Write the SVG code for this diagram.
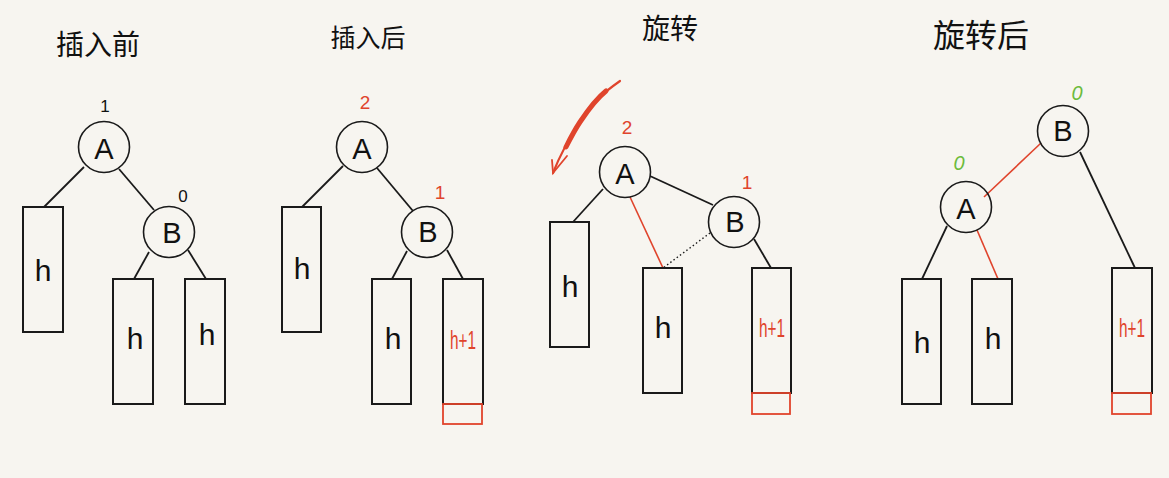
<svg xmlns="http://www.w3.org/2000/svg" width="1169" height="478" viewBox="0 0 1169 478">
<style>
.bg{fill:#f7f5f0}
.nd{fill:none;stroke:#1a1a1a;stroke-width:1.6}
.bx{fill:none;stroke:#1a1a1a;stroke-width:2}
.rb{fill:none;stroke:#e0442c;stroke-width:1.8}
.ln{stroke:#1a1a1a;stroke-width:1.8;fill:none}
.rl{stroke:#e0442c;stroke-width:1.6;fill:none}
.dl{stroke:#1a1a1a;stroke-width:1.4;stroke-dasharray:1.5 2.5;fill:none}
.lt{font-family:"Liberation Sans",sans-serif;font-size:29px;fill:#111;text-anchor:middle;dominant-baseline:central}
.h{font-family:"Liberation Sans",sans-serif;font-size:30px;fill:#111;text-anchor:middle;dominant-baseline:central}
.hr{font-family:"Liberation Sans",sans-serif;font-size:26px;fill:#e0442c;text-anchor:middle;dominant-baseline:central}
.n{font-family:"Liberation Sans",sans-serif;font-size:17px;fill:#111;text-anchor:middle;dominant-baseline:central}
.nr{font-family:"Liberation Sans",sans-serif;font-size:19px;fill:#e0442c;text-anchor:middle;dominant-baseline:central}
.ng{font-family:"Liberation Sans",sans-serif;font-size:20px;fill:#6cbb3c;text-anchor:middle;dominant-baseline:central;font-style:italic}
.tt{font-family:"Liberation Sans","Noto Sans CJK SC",sans-serif;fill:#111;text-anchor:middle;dominant-baseline:central}
</style>
<rect class="bg" x="0" y="0" width="1169" height="478"/>

<!-- Titles -->
<text class="tt" x="98" y="45" font-size="28">插入前</text>
<text class="tt" x="368" y="38" font-size="25">插入后</text>
<text class="tt" x="670" y="29" font-size="28">旋转</text>
<text class="tt" x="981" y="36" font-size="32">旋转后</text>

<!-- connectors -->
<g id="connectors">
  <!-- panel 1 -->
  <line class="ln" x1="84" y1="167" x2="44" y2="207"/>
  <line class="ln" x1="119" y1="169" x2="154" y2="210"/>
  <line class="ln" x1="149" y1="252" x2="134" y2="279"/>
  <line class="ln" x1="188" y1="250" x2="206" y2="279"/>
  <!-- panel 2 -->
  <line class="ln" x1="343" y1="166" x2="302" y2="207"/>
  <line class="ln" x1="377" y1="168" x2="413" y2="211"/>
  <line class="ln" x1="407" y1="251" x2="392" y2="279"/>
  <line class="ln" x1="447" y1="250" x2="463" y2="279"/>
  <!-- panel 3 -->
  <line class="ln" x1="603" y1="189" x2="573" y2="222"/>
  <line class="ln" x1="650" y1="176" x2="713" y2="205"/>
  <line class="rl" x1="630" y1="197" x2="663" y2="268"/>
  <line class="dl" x1="710" y1="233" x2="663" y2="268"/>
  <line class="ln" x1="754" y1="239" x2="771" y2="268"/>
  <!-- panel 4 -->
  <line class="rl" x1="1041" y1="143" x2="984" y2="197"/>
  <line class="ln" x1="947" y1="226" x2="922" y2="279"/>
  <line class="rl" x1="977" y1="230" x2="998" y2="279"/>
  <line class="ln" x1="1080" y1="152" x2="1135" y2="268"/>
  <!-- rotation arrow -->
  <path d="M620 81 C600 95 590 105 580 122 C568 140 560 155 553 173" stroke="#e0442c" stroke-width="2.2" fill="none" stroke-linecap="round"/>
  <path d="M606 91 C596 99 588 110 580 122 C574 131 570 139 566 147" stroke="#e0442c" stroke-width="5" fill="none" stroke-linecap="round"/>
  <path d="M552 160 L553 173 L567 156" stroke="#e0442c" stroke-width="1.8" fill="none" stroke-linecap="round"/>
</g>

<!-- Panel 1 -->
<g id="p1-A"><circle class="nd" cx="104" cy="147" r="25.5"/><text class="lt" x="104" y="149">A</text><text class="n" x="105" y="106">1</text></g>
<g id="p1-B"><circle class="nd" cx="169" cy="232" r="25.5"/><text class="lt" x="172" y="233">B</text><text class="n" x="183" y="196">0</text></g>
<g id="p1-L"><rect class="bx" x="23" y="207" width="40" height="125"/><text class="h" x="43" y="270">h</text></g>
<g id="p1-M"><rect class="bx" x="113" y="279" width="40" height="125"/><text class="h" x="135" y="338">h</text></g>
<g id="p1-R"><rect class="bx" x="185" y="279" width="40" height="125"/><text class="h" x="207" y="334">h</text></g>

<!-- Panel 2 -->
<g id="p2-A"><circle class="nd" cx="362" cy="147" r="25.5"/><text class="lt" x="362" y="149">A</text><text class="nr" x="365" y="102">2</text></g>
<g id="p2-B"><circle class="nd" cx="427" cy="232" r="25.5"/><text class="lt" x="428" y="232">B</text><text class="nr" x="440" y="192">1</text></g>
<g id="p2-L"><rect class="bx" x="282" y="207" width="39" height="125"/><text class="h" x="302" y="268">h</text></g>
<g id="p2-M"><rect class="bx" x="372" y="279" width="39" height="125"/><text class="h" x="393" y="338">h</text></g>
<g id="p2-R"><rect class="bx" x="443" y="279" width="40" height="125"/><rect class="rb" x="443" y="404" width="39" height="20"/><text class="hr" x="463" y="340" textLength="26" lengthAdjust="spacingAndGlyphs">h+1</text></g>

<!-- Panel 3 -->
<g id="p3-A"><circle class="nd" cx="625" cy="172" r="25.5"/><text class="lt" x="625" y="174">A</text><text class="nr" x="627" y="127">2</text></g>
<g id="p3-B"><circle class="nd" cx="734" cy="222" r="25.5"/><text class="lt" x="735" y="222">B</text><text class="nr" x="747" y="182">1</text></g>
<g id="p3-L"><rect class="bx" x="550" y="222" width="39" height="125"/><text class="h" x="570" y="286">h</text></g>
<g id="p3-M"><rect class="bx" x="643" y="268" width="39" height="125"/><text class="h" x="663" y="327">h</text></g>
<g id="p3-R"><rect class="bx" x="752" y="268" width="39" height="125"/><rect class="rb" x="752" y="393" width="38" height="21"/><text class="hr" x="772" y="328" textLength="26" lengthAdjust="spacingAndGlyphs">h+1</text></g>

<!-- Panel 4 -->
<g id="p4-B"><circle class="nd" cx="1063" cy="131" r="25.5"/><text class="lt" x="1063" y="131">B</text><text class="ng" x="1077" y="93">0</text></g>
<g id="p4-A"><circle class="nd" cx="966" cy="207" r="25.5"/><text class="lt" x="966" y="209">A</text><text class="ng" x="959" y="163">0</text></g>
<g id="p4-L"><rect class="bx" x="902" y="279" width="39" height="125"/><text class="h" x="922" y="342">h</text></g>
<g id="p4-M"><rect class="bx" x="972" y="279" width="40" height="125"/><text class="h" x="993" y="338">h</text></g>
<g id="p4-R"><rect class="bx" x="1112" y="268" width="40" height="125"/><rect class="rb" x="1112" y="393" width="39" height="21"/><text class="hr" x="1132" y="328" textLength="26" lengthAdjust="spacingAndGlyphs">h+1</text></g>
</svg>
